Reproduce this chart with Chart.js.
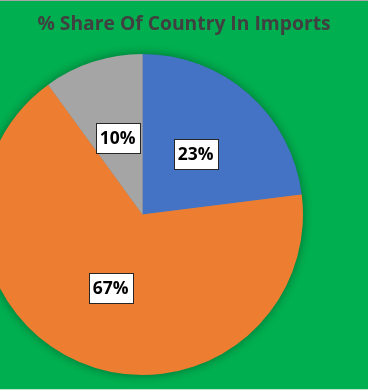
<!DOCTYPE html>
<html>
<head>
<meta charset="utf-8">
<script src="https://cdn.jsdelivr.net/npm/chart.js@4"></script>
<style>
html, body { margin: 0; padding: 0; background: #00B050; }
#wrap { position: relative; width: 368px; height: 390px; overflow: hidden; }
#wrap canvas { position: absolute; left: -18px; top: 0; }
.edge { position: absolute; left: 0; width: 368px; height: 1px; }
</style>
</head>
<body>
<div id="wrap">
  <canvas id="shareChart" width="386" height="390"></canvas>
  <div class="edge" style="top:0; background:#a6a6a6"></div>
  <div class="edge" style="top:389px; background:#bfe6cc"></div>
</div>
<script>
// % share of each country in imports
const chartTitle = '% Share Of Country In Imports';
const countries = ['Country 1', 'Country 2', 'Country 3'];
const shares = [23, 67, 10];
const sliceColors = ['#4472C4', '#ED7D31', '#A5A5A5'];

// canvas sits 18px left of the page so the pie can run off the edge
const canvasShift = 18;

// soft shadow under the whole pie
const pieShadow = {
    id: 'pieShadow',
    beforeDatasetsDraw(chart) {
        const arc = chart.getDatasetMeta(0).data[0];
        if (!arc) return;
        const ctx = chart.ctx;
        ctx.save();
        ctx.shadowColor = 'rgba(0,0,0,0.45)';
        ctx.shadowBlur = 12;
        ctx.fillStyle = '#888888';
        ctx.beginPath();
        ctx.arc(arc.x, arc.y, arc.outerRadius - 1, 0, Math.PI * 2);
        ctx.fill();
        ctx.restore();
    }
};

// percentage labels in white boxes
const boxLabels = {
    id: 'boxLabels',
    afterDatasetsDraw(chart) {
        const ctx = chart.ctx;
        const total = shares.reduce((a, b) => a + b, 0);
        chart.getDatasetMeta(0).data.forEach((arc, i) => {
            const p = arc.getCenterPoint();
            const txt = Math.round(shares[i] / total * 100) + '%';
            const w = 44, h = 30;
            const bx = Math.round(p.x - w / 2) + 0.5, by = Math.round(p.y - h / 2) + 0.5;
            ctx.save();
            ctx.fillStyle = '#ffffff';
            ctx.fillRect(bx, by, w, h);
            ctx.strokeStyle = '#262626';
            ctx.lineWidth = 1;
            ctx.strokeRect(bx, by, w, h);
            ctx.font = 'bold 17.5px "Open Sans"';
            ctx.fillStyle = '#000000';
            ctx.textAlign = 'center';
            ctx.textBaseline = 'middle';
            ctx.fillText(txt, p.x, p.y + 1);
            ctx.restore();
        });
    }
};

// chart heading, centred on the page rather than on the pie
const heading = {
    id: 'heading',
    afterDraw(chart) {
        const ctx = chart.ctx;
        ctx.save();
        ctx.font = 'bold 19.3px "Open Sans"';
        ctx.fillStyle = '#404040';
        ctx.textAlign = 'center';
        ctx.textBaseline = 'middle';
        ctx.fillText(chartTitle, 184 + canvasShift, 25);
        ctx.restore();
    }
};

new Chart(document.getElementById('shareChart'), {
    type: 'pie',
    data: {
        labels: countries,
        datasets: [{
            data: shares,
            backgroundColor: sliceColors,
            borderWidth: 0
        }]
    },
    options: {
        responsive: false,
        devicePixelRatio: 1,
        animation: false,
        layout: {
            padding: { left: 0, right: 65, top: 54, bottom: 15 }
        },
        plugins: {
            legend: { display: false },
            tooltip: { enabled: false },
            title: { display: false }
        }
    },
    plugins: [pieShadow, boxLabels, heading]
});
</script>
</body>
</html>
